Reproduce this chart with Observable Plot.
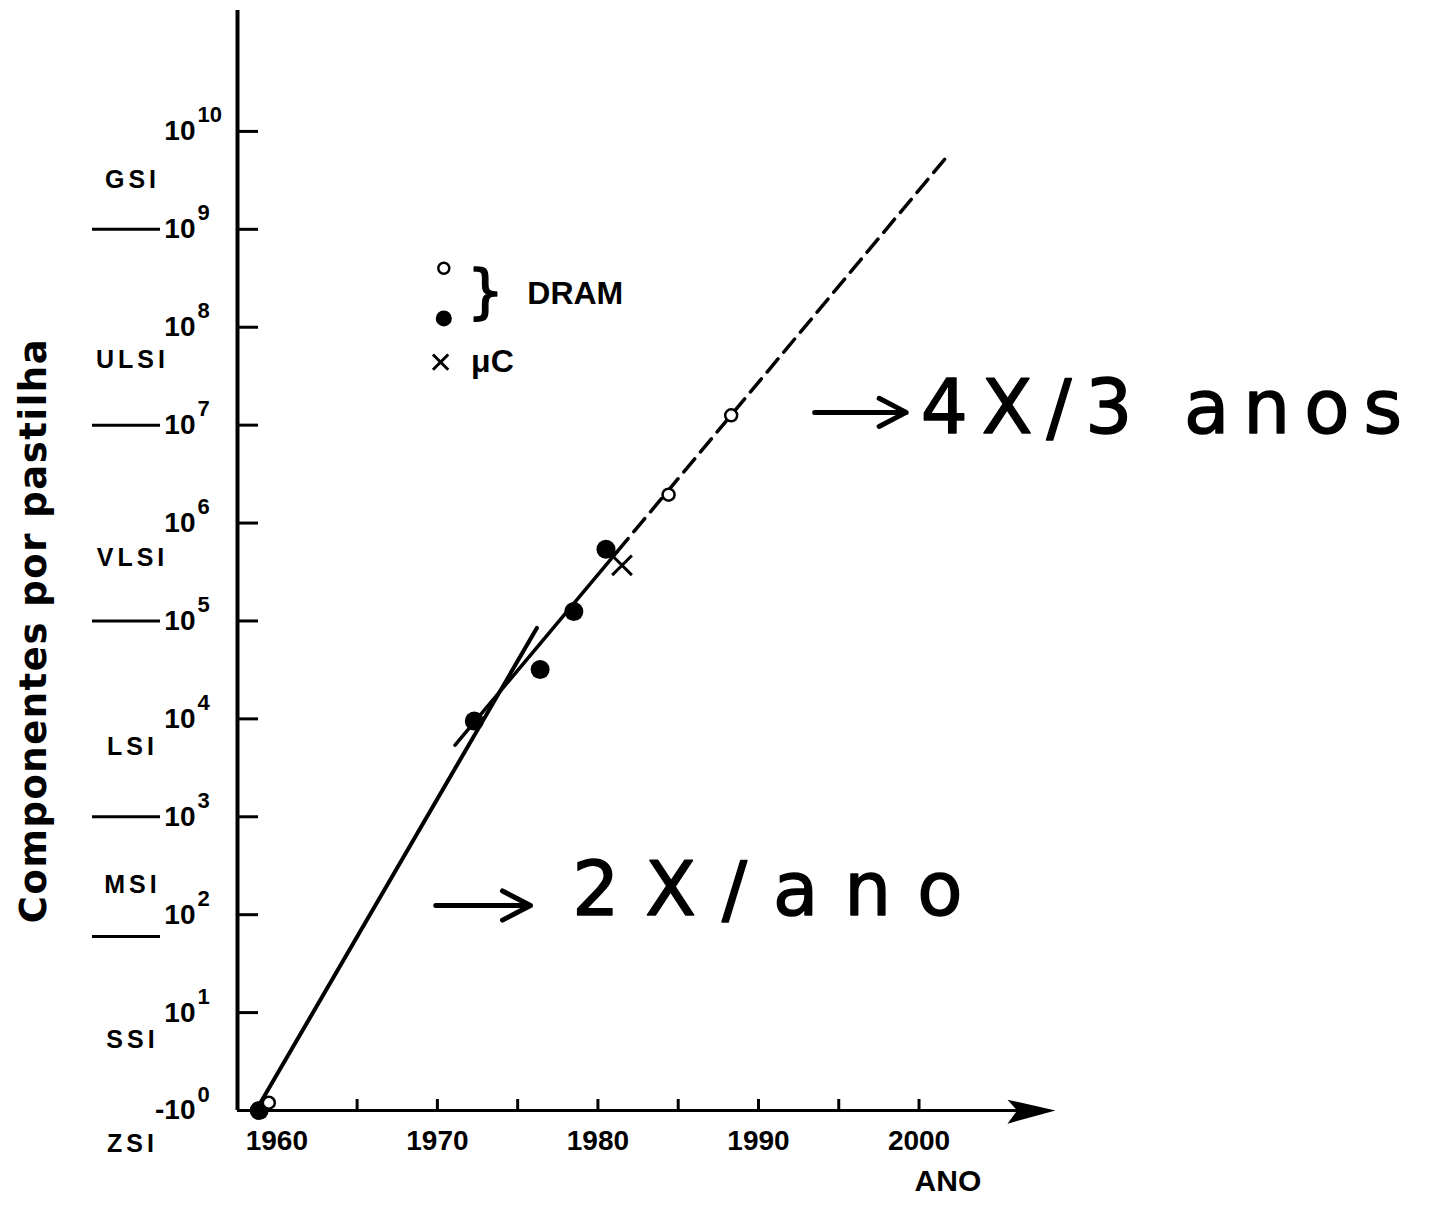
<!DOCTYPE html>
<html><head><meta charset="utf-8">
<script src="https://cdn.jsdelivr.net/npm/d3@7"></script>
<script src="https://cdn.jsdelivr.net/npm/@observablehq/plot@0.6"></script>
<style>
html,body{margin:0;padding:0;background:#fff;}
#chart{width:1431px;height:1208px;}
</style></head><body><div id="chart"></div>
<script>
// ---- data ----
const dramOpenYears = [1959.5, 1984.4, 1988.3];
const dramOpenValues = [1.2, 1.95e6, 1.26e7];
const dramFilledYears = [1958.9, 1972.3, 1976.4, 1978.5, 1980.5];
const dramFilledValues = [1, 9500, 32000, 125000, 540000];
const microYears = [1981.5];
const microValues = [370000];

const fastTrendYears = [1958.7, 1976.2];
const fastTrendValues = [1, 85000];
const slowTrendYears = [1971.1, 1981.2];
const slowTrendValues = [5400, 510000];
const slowDashYears = [1981.2, 2001.8];
const slowDashValues = [510000, 5.7e9];

const xTickYears = [1965, 1970, 1975, 1980, 1985, 1990, 1995, 2000];
const xLabelYears = [1960, 1970, 1980, 1990, 2000];
const xLabels = ["1960", "1970", "1980", "1990", "2000"];
const xTitle = "ANO";
const xTitleYear = 2001.8;

const yTickValues = [1, 1e1, 1e2, 1e3, 1e4, 1e5, 1e6, 1e7, 1e8, 1e9, 1e10];
const yTickBases = ["-10", "10", "10", "10", "10", "10", "10", "10", "10", "10", "10"];
const yTickExponents = ["0", "1", "2", "3", "4", "5", "6", "7", "8", "9", "10"];
const yTitle = "Componentes por pastilha";

const classNames = ["ZSI", "SSI", "MSI", "LSI", "VLSI", "ULSI", "GSI"];
const classLabelValues = [0.45, 5.2, 200, 5200, 4.4e5, 4.6e7, 3.2e9];
const classBoundaries = [60, 1e3, 1e5, 1e7, 1e9];

const legendOpen = [{year: 1970.4, value: 4e8}];
const legendFilled = [{year: 1970.4, value: 1.23e8}];
const legendTimes = [{year: 1970.2, value: 4.4e7}];
const legendBrace = [{year: 1973.0, value: 2.2e8, text: "}"}];
const legendTexts = [{year: 1975.6, value: 2.2e8, text: "DRAM"}, {year: 1972.1, value: 4.4e7, text: "μC"}];

const annotation4x = [{year: 2000.1, value: 1.45e7, text: "4X/3 anos"}];
const annotation2x = [{year: 1978.4, value: 175, text: "2X/ano"}];
const arrowsX1 = [1993.5, 1969.9];
const arrowsX2 = [1999.2, 1975.8];
const arrowsValues = [1.35e7, 124];

// ---- layout ----
const W = 1431, H = 1208;
const mL = 237, mR = 376, mT = 10, mB = 98;
const plotW = W - mL - mR, plotH = H - mT - mB;
const xDomain = [1957.55, 2008.5];
const yDomain = [1, Math.pow(10, 11.235)];
const bold = "bold";
const sans = "'Liberation Sans', Arial, sans-serif";
const deja = "'DejaVu Sans', sans-serif";

const arrowHead = {draw(ctx, size) {
  const r = Math.sqrt(size / Math.PI);
  ctx.moveTo(0, 0);
  ctx.lineTo(-4 * r, -0.9 * r);
  ctx.lineTo(-3.2 * r, 0);
  ctx.lineTo(-4 * r, 1.1 * r);
  ctx.closePath();
}};

const chart = Plot.plot({
  width: W, height: H,
  marginLeft: mL, marginRight: mR, marginTop: mT, marginBottom: mB,
  x: {domain: xDomain, axis: null},
  y: {type: "log", domain: yDomain, axis: null},
  style: {background: "white", color: "black", fontFamily: sans, overflow: "visible"},
  marks: [
    // axes
    Plot.ruleY([1], {y: d => d, stroke: "black", strokeWidth: 3, insetRight: 20}),
    Plot.dot([xDomain[1]], {x: d => d, y: () => 1, symbol: arrowHead, r: 12, fill: "black", stroke: "none"}),
    Plot.ruleX([xDomain[0]], {x: d => d, stroke: "black", strokeWidth: 4}),
    Plot.tickX(xTickYears, {x: d => d, insetTop: plotH - 11, stroke: "black", strokeWidth: 3}),
    Plot.tickY(yTickValues.slice(1), {y: d => d, insetRight: plotW - 21, stroke: "black", strokeWidth: 3}),
    Plot.text(xLabelYears, {x: d => d, y: () => 1, text: (d, i) => xLabels[i], dy: 31, fontSize: 28, fontWeight: bold}),
    Plot.text(yTickValues, {y: d => d, frameAnchor: "left", text: (d, i) => yTickBases[i], textAnchor: "end", dx: -42, fontSize: 28, fontWeight: bold}),
    Plot.text(yTickValues, {y: d => d, frameAnchor: "left", text: (d, i) => yTickExponents[i], textAnchor: "start", dx: -40, dy: -16, fontSize: 22, fontWeight: bold}),
    Plot.text([xTitle], {x: () => xTitleYear, frameAnchor: "bottom", text: d => d, textAnchor: "middle", dy: 80, fontSize: 30, fontWeight: bold}),
    Plot.text([yTitle], {frameAnchor: "left", text: d => d, textAnchor: "middle", rotate: -90, dx: -203, dy: 70, fontSize: 37, fontWeight: bold, fontFamily: deja}),
    // integration classes
    Plot.text(classNames, {y: (d, i) => classLabelValues[i], frameAnchor: "left", text: d => d, textAnchor: "middle", dx: -105, fontSize: 25, fontWeight: bold}),
    Plot.ruleY(classBoundaries, {y: d => d, insetLeft: -145, insetRight: plotW + 77, stroke: "black", strokeWidth: 3}),
    // trend lines
    Plot.line(fastTrendYears, {x: d => d, y: (d, i) => fastTrendValues[i], stroke: "black", strokeWidth: 4}),
    Plot.line(slowTrendYears, {x: d => d, y: (d, i) => slowTrendValues[i], stroke: "black", strokeWidth: 3.5}),
    Plot.line(slowDashYears, {x: d => d, y: (d, i) => slowDashValues[i], stroke: "black", strokeWidth: 3.5, strokeDasharray: "17,9"}),
    // data points
    Plot.dot(dramFilledYears, {x: d => d, y: (d, i) => dramFilledValues[i], r: 9.5, fill: "black", stroke: "none"}),
    Plot.dot(dramOpenYears, {x: d => d, y: (d, i) => dramOpenValues[i], r: 6, fill: "white", stroke: "black", strokeWidth: 2.5}),
    Plot.dot(microYears, {x: d => d, y: (d, i) => microValues[i], symbol: "times", r: 9, stroke: "black", strokeWidth: 3}),
    // legend
    Plot.dot(legendOpen, {x: "year", y: "value", r: 5.5, fill: "white", stroke: "black", strokeWidth: 2.5}),
    Plot.dot(legendFilled, {x: "year", y: "value", r: 8, fill: "black", stroke: "none"}),
    Plot.dot(legendTimes, {x: "year", y: "value", symbol: "times", r: 7, stroke: "black", strokeWidth: 3}),
    Plot.text(legendBrace, {x: "year", y: "value", text: "text", fontSize: 58, fontFamily: deja, fill: "black", stroke: "black", strokeWidth: 1.5}),
    Plot.text(legendTexts, {x: "year", y: "value", text: "text", textAnchor: "start", fontSize: 32, fontWeight: bold}),
    // handwritten annotations
    Plot.arrow(arrowsX1, {x1: d => d, x2: (d, i) => arrowsX2[i], y1: (d, i) => arrowsValues[i], y2: (d, i) => arrowsValues[i], stroke: "black", strokeWidth: 5, headLength: 18, headAngle: 55}),
    Plot.text(annotation4x, {x: "year", y: "value", text: "text", textAnchor: "start", fontSize: 74, fontFamily: deja, fill: "black", stroke: "black", strokeWidth: 1.5}),
    Plot.text(annotation2x, {x: "year", y: "value", text: "text", textAnchor: "start", fontSize: 74, fontFamily: deja, fill: "black", stroke: "black", strokeWidth: 1.5})
  ]
});

// letter spacing for lettered / handwritten texts
const spacing = new Map([[yTitle, 1.5], [annotation4x[0].text, 14], [annotation2x[0].text, 26]]);
classNames.forEach(n => spacing.set(n, 4));
d3.select(chart).selectAll("text").each(function() {
  const s = spacing.get(this.textContent);
  if (s != null) this.setAttribute("letter-spacing", s);
});
document.getElementById("chart").appendChild(chart);
</script></body></html>
